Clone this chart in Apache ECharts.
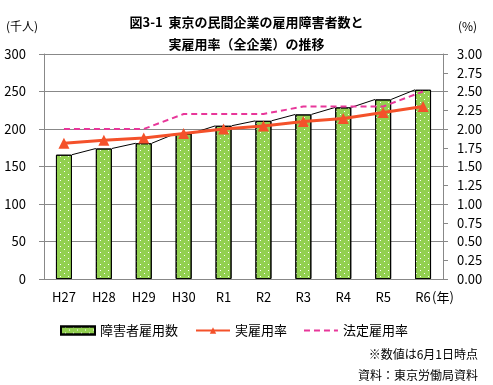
<!DOCTYPE html>
<html>
<head>
<meta charset="utf-8">
<script src="https://cdn.jsdelivr.net/npm/echarts@6/dist/echarts.min.js"></script>
<style>html,body{margin:0;padding:0;background:#fff}#c{width:493px;height:385px}</style>
</head>
<body>
<div id="c"></div>
<script>
const categories = ['H27','H28','H29','H30','R1','R2','R3','R4','R5','R6'];
const employed = [165.7, 174.0, 181.0, 194.0, 204.3, 210.9, 219.4, 228.8, 239.4, 252.3];
const actualRate = [1.81, 1.85, 1.88, 1.94, 2.00, 2.04, 2.10, 2.14, 2.22, 2.30];
const legalRate = [2.0, 2.0, 2.0, 2.2, 2.2, 2.2, 2.3, 2.3, 2.3, 2.5];
const leftTicks = {min: 0, max: 300, interval: 50};
const rightTicks = {min: 0, max: 3, interval: 0.25};

const FONT = 'Noto Sans CJK JP';
const chart = echarts.init(document.getElementById('c'), null, {renderer: 'canvas'});
const halfBar = 8;

chart.setOption({
  animation: false,
  backgroundColor: '#fff',
  textStyle: {fontFamily: FONT},
  grid: {left: 44, right: 50, top: 54, bottom: 106},
  title: {
    text: '図3-1  東京の民間企業の雇用障害者数と\n実雇用率（全企業）の推移',
    left: 'center', top: 6,
    textStyle: {fontFamily: FONT, fontSize: 13, fontWeight: 'bold', color: '#000', lineHeight: 22}
  },
  legend: {
    left: 55, top: 319, itemGap: 17, itemWidth: 34, itemHeight: 8,
    textStyle: {fontFamily: FONT, fontSize: 13, color: '#000'},
    data: [
      {name: '障害者雇用数', icon: 'rect'},
      {name: '実雇用率'},
      {name: '法定雇用率', icon: 'path://M0,0h0.01v0.01h-0.01zM0,8h0.01v0.01h-0.01zM0,3h6v2h-6zM10,3h6v2h-6zM20,3h6v2h-6zM30,3h4v2h-4z',
       itemStyle: {color: '#E8379A'}}
    ]
  },
  graphic: [
    {type: 'text', left: 6, top: 20, style: {text: '(千人)', font: '12px "' + FONT + '"', fill: '#000'}},
    {type: 'text', left: 458, top: 20, style: {text: '(%)', font: '12px "' + FONT + '"', fill: '#000'}},
    {type: 'text', left: 432, top: 291, style: {text: '(年)', font: '13px "' + FONT + '"', fill: '#000'}},
    {type: 'text', right: 15, top: 348, style: {text: '※数値は6月1日時点', font: '12px "' + FONT + '"', fill: '#000'}},
    {type: 'text', right: 15, top: 369, style: {text: '資料：東京労働局資料', font: '12px "' + FONT + '"', fill: '#000'}}
  ],
  xAxis: {
    type: 'category', data: categories,
    axisLine: {lineStyle: {color: '#888'}},
    axisTick: {show: false},
    axisLabel: {fontFamily: FONT, fontSize: 13, color: '#000', margin: 12, interval: 0}
  },
  yAxis: [
    {
      type: 'value', min: leftTicks.min, max: leftTicks.max, interval: leftTicks.interval,
      axisLine: {show: true, lineStyle: {color: '#888'}},
      axisTick: {show: true, length: 5, lineStyle: {color: '#888'}},
      splitLine: {lineStyle: {color: '#888'}},
      axisLabel: {fontFamily: FONT, fontSize: 13, color: '#000', margin: 18}
    },
    {
      type: 'value', min: rightTicks.min, max: rightTicks.max, interval: rightTicks.interval,
      position: 'right',
      axisLine: {show: true, lineStyle: {color: '#888'}},
      axisTick: {show: true, length: 5, lineStyle: {color: '#888'}},
      splitLine: {show: false},
      axisLabel: {fontFamily: FONT, fontSize: 13, color: '#000', margin: 14, formatter: v => v.toFixed(2)}
    }
  ],
  series: [
    {
      name: '障害者雇用数', type: 'bar', data: employed, barWidth: 16, z: 2,
      itemStyle: {
        color: '#92D050', borderColor: '#000', borderWidth: 1,
        decal: {symbol: 'rect', symbolSize: 1, color: '#ffffff', backgroundColor: null,
                dashArrayX: [[1, 7], [0, 4, 1, 3]], dashArrayY: [1, 2]}
      }
    },
    {
      name: 'serieslines', type: 'custom', z: 3, silent: true,
      data: employed.map((v, i) => [i, v]),
      encode: {x: 0, y: 1},
      renderItem: function (params, api) {
        const i = api.value(0);
        if (i >= employed.length - 1) return null;
        const p1 = api.coord([i, employed[i]]);
        const p2 = api.coord([i + 1, employed[i + 1]]);
        return {type: 'line', shape: {x1: p1[0] + halfBar, y1: p1[1], x2: p2[0] - halfBar, y2: p2[1]},
                style: {stroke: '#000', lineWidth: 1}};
      }
    },
    {
      name: '実雇用率', type: 'line', yAxisIndex: 1, data: actualRate, z: 5,
      symbol: 'triangle', symbolSize: 11,
      lineStyle: {color: '#F4512A', width: 3},
      itemStyle: {color: '#F4512A'}
    },
    {
      name: '法定雇用率', type: 'line', yAxisIndex: 1, data: legalRate, z: 4,
      symbol: 'none',
      lineStyle: {color: '#E8379A', width: 2, type: [6, 4]},
      itemStyle: {color: '#E8379A'}
    }
  ]
});
</script>
</body>
</html>
